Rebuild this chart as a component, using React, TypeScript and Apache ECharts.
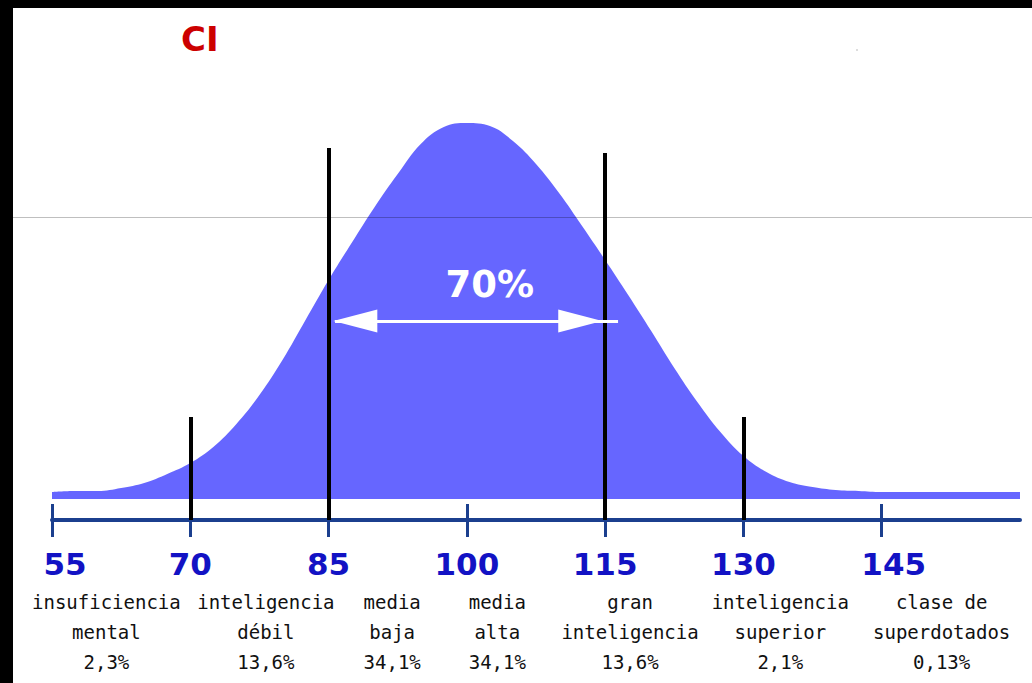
import React, { useEffect, useRef } from "react";
import * as echarts from "echarts";

// IQ positions of the curve samples and the curve height at each (px-ish units)
const iqValues = [
  55, 57.5, 60, 62.5, 65, 67.5, 70, 72.5, 75, 77.5, 80, 82.5, 85, 87.5, 90, 92.5, 95, 97.5, 100,
  102.5, 105, 107.5, 110, 112.5, 115, 117.5, 120, 122.5, 125, 127.5, 130, 132.5, 135, 137.5, 140,
  142.5, 145, 150, 155, 160,
];
const curveHeights = [
  7, 8, 8, 11, 16, 25, 36, 52, 75, 104, 139, 179, 219, 256, 292, 325, 355, 372, 376,
  373, 358, 335, 306, 273, 239, 204, 168, 131, 97, 67, 43, 27, 17, 12, 9,
  8, 7, 7, 7, 7,
];

// Axis tick labels
const tickValues = [55, 70, 85, 100, 115, 130, 145];

// Vertical boundary lines: IQ position and top height
const boundaryIQ = [70, 85, 115, 130];
const boundaryTop = [82, 351, 346, 82];
const boundaryBottom = -21;

// Category labels under the axis
const categoryCenters = [60.9, 78.2, 91.9, 103.3, 117.7, 134.0, 151.5];
const categoryLine1 = ["insuficiencia", "inteligencia", "media", "media", "gran", "inteligencia", "clase de"];
const categoryLine2 = ["mental", "débil", "baja", "alta", "inteligencia", "superior", "superdotados"];
const categoryPercent = ["2,3%", "13,6%", "34,1%", "34,1%", "13,6%", "2,1%", "0,13%"];

// 70% arrow
const arrowLabel = "70%";
const arrowHeight = 178;
const arrowShaft = [85.7, 116.4];
const arrowHeads = [87.9, 112.3];
const arrowLabelPos = [102.5, 215];

const AXIS_COLOR = "#1b3f8e";
const NUM_COLOR = "#1212c4";

export default function App() {
  const ref = useRef<HTMLDivElement>(null);
  useEffect(() => {
    if (!ref.current) return;
    const chart = echarts.init(ref.current, null, { renderer: "svg" });
    const curve = iqValues.map((x, i) => [x, curveHeights[i]]);
    const boundaries = boundaryIQ.map((x, i) => [
      { coord: [x, boundaryTop[i]] },
      { coord: [x, boundaryBottom] },
    ]);
    chart.setOption({
      animation: false,
      backgroundColor: "#ffffff",
      title: {
        text: "CI",
        left: 176,
        top: 17,
        textStyle: { color: "#cc0000", fontSize: 34, fontWeight: "bold", fontFamily: "DejaVu Sans" },
      },
      grid: { left: 52, right: 12, top: 99, bottom: 163, containLabel: false },
      xAxis: [
        {
          type: "value",
          min: 55,
          max: 160,
          position: "bottom",
          axisLine: { show: true, onZero: false, lineStyle: { color: AXIS_COLOR, width: 4 } },
          axisTick: { show: true, customValues: tickValues, inside: false, length: 17, lineStyle: { color: AXIS_COLOR, width: 3 } },
          axisLabel: {
            customValues: tickValues,
            margin: 28,
            formatter: (v: number) => (v === 55 ? `{a|${v}}` : v === 145 ? `{b|${v}}` : `{n|${v}}`),
            rich: {
              n: { fontFamily: "DejaVu Sans", fontWeight: "bold", fontSize: 31, color: NUM_COLOR, lineHeight: 31 },
              a: { fontFamily: "DejaVu Sans", fontWeight: "bold", fontSize: 31, color: NUM_COLOR, lineHeight: 31, padding: [0, 0, 0, 26] },
              b: { fontFamily: "DejaVu Sans", fontWeight: "bold", fontSize: 31, color: NUM_COLOR, lineHeight: 31, padding: [0, 0, 0, 24] },
            },
          },
          splitLine: { show: false },
        },
        {
          type: "value",
          min: 55,
          max: 160,
          position: "bottom",
          axisLine: { show: false, onZero: false },
          axisTick: { show: true, customValues: tickValues, inside: true, length: 16, lineStyle: { color: AXIS_COLOR, width: 3 } },
          axisLabel: {
            customValues: categoryCenters,
            margin: 67,
            fontFamily: "DejaVu Sans Mono",
            fontSize: 19,
            lineHeight: 30,
            color: "#111111",
            formatter: (v: number) => {
              const i = categoryCenters.indexOf(v);
              if (i < 0) return "";
              return `${categoryLine1[i]}\n${categoryLine2[i]}\n${categoryPercent[i]}`;
            },
          },
          splitLine: { show: false },
        },
      ],
      yAxis: {
        type: "value",
        min: boundaryBottom,
        max: 400,
        show: false,
        splitLine: { show: false },
      },
      series: [
        {
          type: "line",
          xAxisIndex: 0,
          data: curve,
          smooth: 0.4,
          showSymbol: false,
          symbol: "none",
          lineStyle: { width: 0 },
          areaStyle: { color: "#6666ff", opacity: 1, origin: 0 },
          silent: true,
          z: 2,
          markLine: {
            silent: true,
            symbol: ["none", "none"],
            label: { show: false },
            lineStyle: { color: "#000000", width: 4, type: "solid" },
            data: boundaries,
            z: 5,
          },
          markPoint: {
            silent: true,
            symbol: "circle",
            symbolSize: 1,
            itemStyle: { color: "rgba(0,0,0,0)" },
            label: {
              show: true,
              position: "inside",
              formatter: arrowLabel,
              color: "#ffffff",
              fontSize: 37,
              fontWeight: "bold",
              fontFamily: "DejaVu Sans",
            },
            data: [{ coord: arrowLabelPos }],
          },
        },
        {
          type: "line",
          xAxisIndex: 0,
          data: [],
          silent: true,
          z: 6,
          markLine: {
            silent: true,
            label: { show: false },
            lineStyle: { color: "#ffffff", width: 3, type: "solid", opacity: 1 },
            data: [
              [
                { coord: [arrowShaft[0], arrowHeight], symbol: "none" },
                { coord: [arrowShaft[1], arrowHeight], symbol: "none" },
              ],
              [
                { coord: [arrowHeads[0], arrowHeight], symbol: "triangle", symbolSize: [23, 44] },
                { coord: [arrowHeads[1], arrowHeight], symbol: "triangle", symbolSize: [23, 44] },
              ],
            ],
          },
        },
      ],
      graphic: [
        { type: "rect", shape: { x: 0, y: 0, width: 1032, height: 8 }, style: { fill: "#000000" }, z: 100 },
        { type: "rect", shape: { x: 0, y: 0, width: 13, height: 683 }, style: { fill: "#000000" }, z: 100 },
        { type: "line", shape: { x1: 13, y1: 217.5, x2: 1032, y2: 217.5 }, style: { stroke: "rgba(0,0,0,0.25)", lineWidth: 1 }, z: 100 },
        { type: "rect", shape: { x: 856, y: 49, width: 2, height: 2 }, style: { fill: "#dddddd" }, z: 100 },
      ],
    });
    return () => chart.dispose();
  }, []);
  return (
    <div
      ref={ref}
      style={{ position: "absolute", left: 0, top: 0, width: 1032, height: 683 }}
    />
  );
}
